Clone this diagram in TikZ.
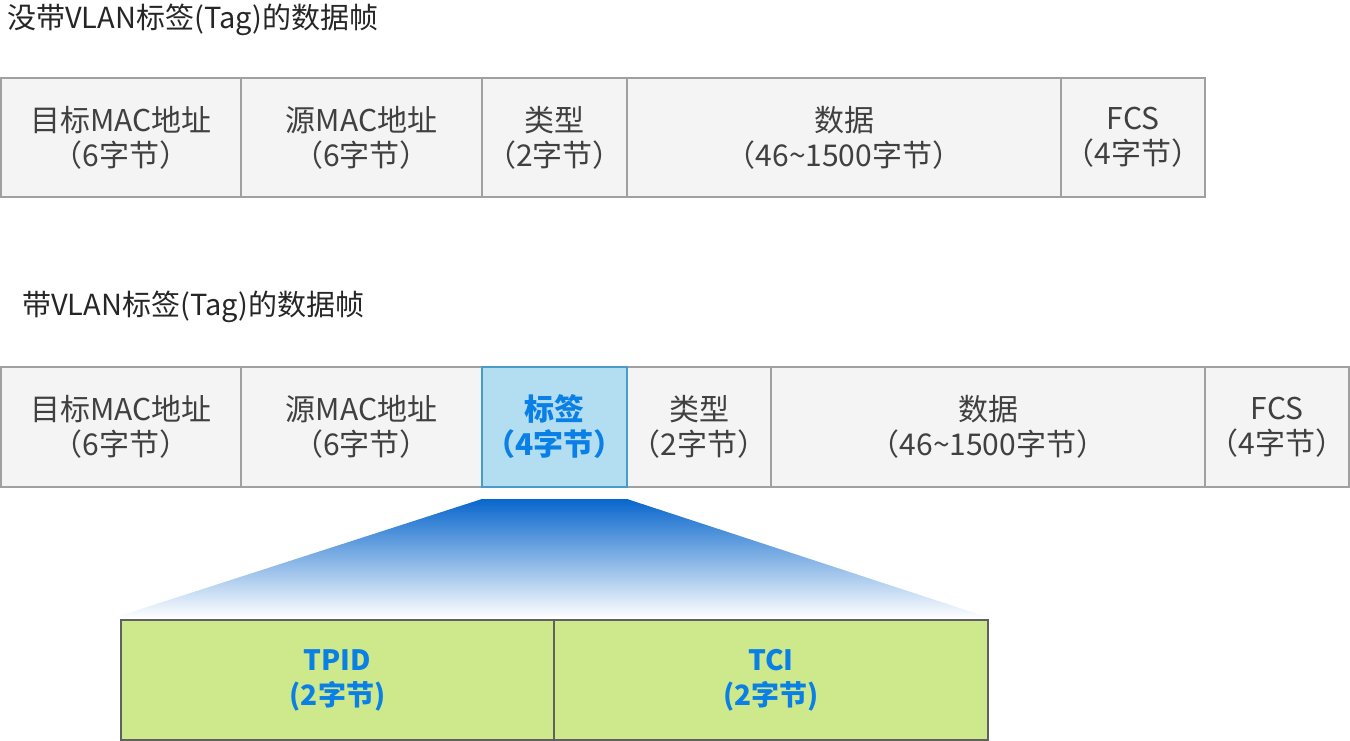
\documentclass[tikz,border=0pt]{standalone}
\usepackage{fontspec}
\newfontfamily\cjk{Noto Sans CJK SC}
\definecolor{cellfill}{HTML}{F4F4F4}
\definecolor{cellborder}{HTML}{A0A0A0}
\definecolor{textgray}{HTML}{404040}
\definecolor{tagfill}{HTML}{B3DEF2}
\definecolor{tagborder}{HTML}{4A9CC8}
\definecolor{bluetext}{HTML}{0A80E6}
\definecolor{greenfill}{HTML}{CDE98C}
\definecolor{greenborder}{HTML}{606060}
\definecolor{gradtop}{HTML}{0866CC}
\begin{document}
\begin{tikzpicture}[x=1pt,y=-1pt,
  cell/.style={draw=cellborder, line width=1.2pt, fill=cellfill, text=textgray,
    font=\cjk\fontsize{30}{35}\selectfont, align=center, inner sep=0pt, outer sep=0pt},
  row1/.style={cell, minimum height=119pt},
  row2/.style={cell, minimum height=120pt},
  tagcell/.style={row2, draw=tagborder, fill=tagfill, text=bluetext, font=\cjk\bfseries\fontsize{30}{35}\selectfont},
  subcell/.style={draw=greenborder, line width=1.2pt, fill=greenfill, text=bluetext,
    font=\cjk\bfseries\fontsize{28}{35}\selectfont, align=center, inner sep=0pt, outer sep=0pt, minimum height=120pt},
  title/.style={anchor=west, inner sep=0pt, text=black!85, font=\cjk\fontsize{29}{34}\selectfont}
]
\useasboundingbox (0,0) rectangle (1350,741);

\node[title] (t1) at (7,20) {没带VLAN标签(Tag)的数据帧};
\node[title] (t2) at (22,307) {带VLAN标签(Tag)的数据帧};

% row 1
\node[row1, minimum width=240pt] (a1) at (121,137.5) {目标MAC地址\\（6字节）};
\node[row1, minimum width=241pt] (a2) at (361.5,137.5) {源MAC地址\\（6字节）};
\node[row1, minimum width=145pt] (a3) at (554.5,137.5) {类型\\（2字节）};
\node[row1, minimum width=434pt] (a4) at (844,137.5) {数据\\（46\textasciitilde1500字节）};
\node[row1, minimum width=144pt] (a5) at (1133,137.5) {FCS\\（4字节）};

% row 2
\node[row2, minimum width=240pt] (b1) at (121,427) {目标MAC地址\\（6字节）};
\node[row2, minimum width=241pt] (b2) at (361.5,427) {源MAC地址\\（6字节）};
\node[row2, minimum width=144pt] (b4) at (699,427) {类型\\（2字节）};
\node[row2, minimum width=434pt] (b5) at (988,427) {数据\\（46\textasciitilde1500字节）};
\node[row2, minimum width=144pt] (b6) at (1277,427) {FCS\\（4字节）};
\node[tagcell, minimum width=145pt] (b3) at (554.5,427) {标签\\（4字节）};

% gradient trapezoid
\coordinate (g1) at (482,499);
\coordinate (g2) at (627,499);
\coordinate (g3) at (990,618);
\coordinate (g4) at (113,618);
\shade[top color=gradtop, bottom color=white] (g1) -- (g2) -- (g3) -- (g4) -- cycle;

% sub cells
\node[subcell, minimum width=433pt] (c1) at (337.5,680) {TPID\\(2字节)};
\node[subcell, minimum width=434pt] (c2) at (771,680) {TCI\\(2字节)};
\end{tikzpicture}
\end{document}
